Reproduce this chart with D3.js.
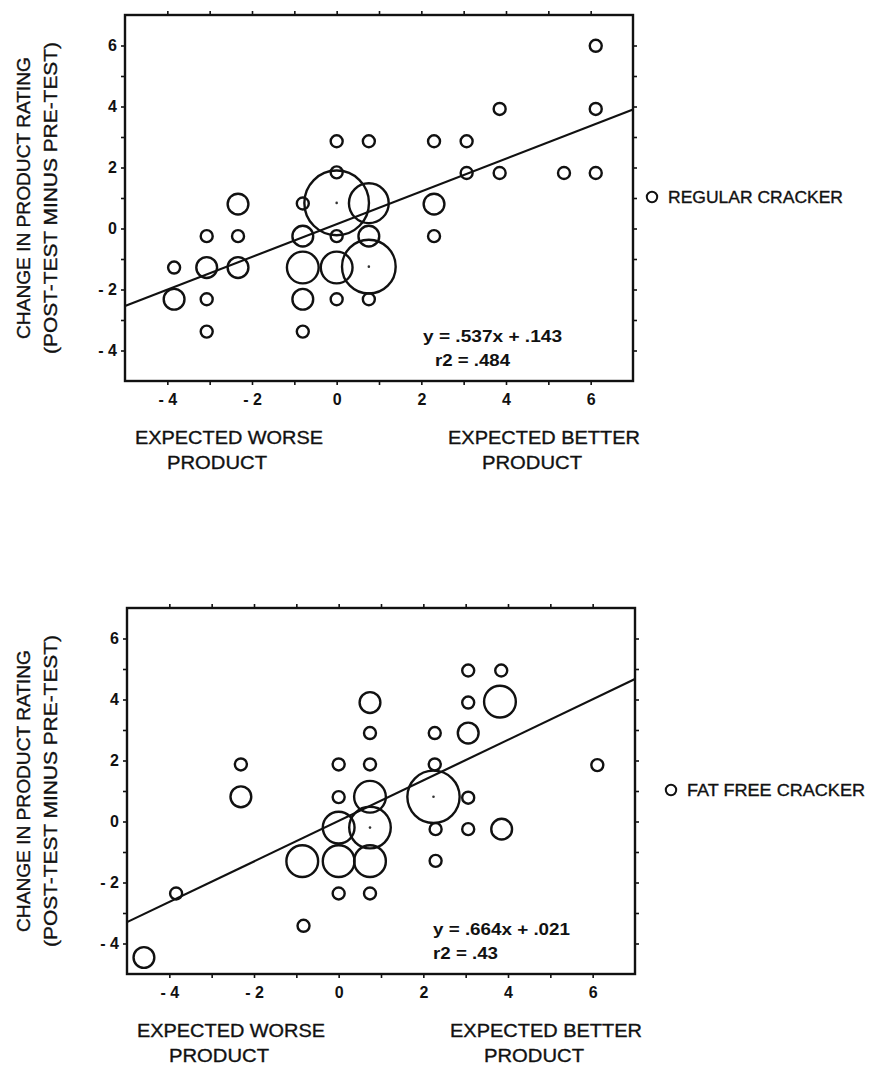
<!DOCTYPE html>
<html>
<head>
<meta charset="utf-8">
<script src="https://cdn.jsdelivr.net/npm/d3@7"></script>
<style>
  body { margin: 0; background: #fff; }
  svg { display: block; font-family: "Liberation Sans", Arial, Helvetica, sans-serif; }
  .tick text { font-size: 16px; font-weight: bold; fill: #111; }
  .tick line { stroke: #111; stroke-width: 1.6; }
  .title { fill: #111; stroke: #111; stroke-width: 0.35; }
</style>
</head>
<body>
<div id="chart"></div>
<script>
// axis values
var xDomain = [-5, 7];
var yDomain = [-5, 7];
var tickValues = [-4, -3, -2, -1, 0, 1, 2, 3, 4, 5, 6];

// regular cracker: expectation (x), change in rating (y), number of respondents (n)
var regularX = [6.12, 3.85, 6.12, 0, 0.76, 2.30, 3.07, 0, 3.07, 3.85, 5.37, 6.12,
  -2.33, -0.80, 0, 0.76, 2.30,
  -3.07, -2.33, -0.80, 0, 0.76, 2.30,
  -3.84, -3.07, -2.33, -0.80, 0, 0.76,
  -3.84, -3.07, -0.80, 0, 0.76,
  -3.07, -0.80];
var regularY = [5.99, 3.92, 3.92, 2.86, 2.86, 2.86, 2.86, 1.84, 1.82, 1.82, 1.82, 1.82,
  0.80, 0.82, 0.84, 0.83, 0.80,
  -0.25, -0.25, -0.25, -0.25, -0.25, -0.25,
  -1.28, -1.28, -1.28, -1.28, -1.28, -1.25,
  -2.32, -2.32, -2.32, -2.32, -2.32,
  -3.38, -3.38];
var regularN = [1, 1, 1, 1, 1, 1, 1, 1, 1, 1, 1, 1,
  3, 1, 29, 11, 3,
  1, 1, 3, 1, 3, 1,
  1, 3, 3, 7, 7, 20,
  3, 1, 3, 1, 1,
  1, 1];

// fat free cracker
var fatFreeX = [3.06, 3.84, 0.74, 3.06, 3.81, 0.74, 2.27, 3.06,
  -2.31, 0, 0.74, 2.27, 6.11,
  -2.31, 0, 0.74, 2.24, 3.06,
  0, 0.74, 2.29, 3.06, 3.85,
  -0.86, 0, 0.74, 2.29,
  -3.84, 0, 0.74,
  -0.83, -4.60];
var fatFreeY = [4.95, 4.95, 3.90, 3.90, 3.93, 2.90, 2.90, 2.90,
  1.87, 1.87, 1.87, 1.87, 1.85,
  0.81, 0.80, 0.81, 0.81, 0.78,
  -0.20, -0.20, -0.25, -0.25, -0.25,
  -1.30, -1.30, -1.30, -1.29,
  -2.36, -2.36, -2.36,
  -3.42, -4.46];
var fatFreeN = [1, 1, 3, 1, 7, 1, 1, 3,
  1, 1, 1, 1, 1,
  3, 1, 7, 19, 1,
  7, 12, 1, 1, 3,
  7, 7, 7, 1,
  1, 1, 1,
  1, 3];

// regression fits
var slopes = [0.537, 0.664];
var intercepts = [0.143, 0.021];
var equationLabels = ["y = .537x + .143", "y = .664x + .021"];
var r2Labels = ["r2 = .484", "r2 = .43"];
var legendLabels = ["REGULAR CRACKER", "FAT FREE CRACKER"];
var yTitleLines = ["CHANGE IN PRODUCT RATING", "(POST-TEST MINUS PRE-TEST)"];
var xTitleLeft = ["EXPECTED WORSE", "PRODUCT"];
var xTitleRight = ["EXPECTED BETTER", "PRODUCT"];

var width = 869, height = 1067;
var plotW = 508, plotH = 366;

var svg = d3.select("#chart").append("svg")
  .attr("width", width)
  .attr("height", height);

svg.append("rect").attr("width", width).attr("height", height).attr("fill", "#fff");

// bubble area follows the count
var rScale = d3.scaleSqrt().domain([0, 1]).range([0, 6]);

function tickLabel(d) {
  if (d % 2 !== 0) return "";
  return d < 0 ? "- " + Math.abs(d) : String(d);
}

function drawPanel(opts) {
  var g = svg.append("g").attr("transform", "translate(" + opts.left + "," + opts.top + ")");

  var x = d3.scaleLinear().domain(xDomain).range([0, plotW]);
  var y = d3.scaleLinear().domain(yDomain).range([plotH, 0]);

  // axes, ticks outward on all four sides
  g.append("g").attr("transform", "translate(0," + plotH + ")")
    .call(d3.axisBottom(x).tickValues(tickValues).tickSize(4).tickPadding(9).tickFormat(tickLabel))
    .call(function (s) { s.select(".domain").remove(); });
  g.append("g")
    .call(d3.axisTop(x).tickValues(tickValues).tickSize(4).tickFormat(""))
    .call(function (s) { s.select(".domain").remove(); });
  g.append("g")
    .call(d3.axisLeft(y).tickValues(tickValues).tickSize(4).tickPadding(4).tickFormat(tickLabel))
    .call(function (s) { s.select(".domain").remove(); });
  g.append("g").attr("transform", "translate(" + plotW + ",0)")
    .call(d3.axisRight(y).tickValues(tickValues).tickSize(4).tickFormat(""))
    .call(function (s) { s.select(".domain").remove(); });

  // frame
  g.append("rect")
    .attr("width", plotW).attr("height", plotH)
    .attr("fill", "none").attr("stroke", "#111").attr("stroke-width", 2.4);

  // regression line
  var line = d3.line()
    .x(function (d) { return x(d); })
    .y(function (d) { return y(opts.slope * d + opts.intercept); });
  g.append("path")
    .datum(xDomain)
    .attr("d", line)
    .attr("fill", "none").attr("stroke", "#111").attr("stroke-width", 2.2);

  var pts = opts.xs.map(function (v, i) { return { x: v, y: opts.ys[i], n: opts.ns[i] }; });

  g.selectAll("circle.bubble")
    .data(pts)
    .enter().append("circle")
    .attr("class", "bubble")
    .attr("cx", function (d) { return x(d.x); })
    .attr("cy", function (d) { return y(d.y); })
    .attr("r", function (d) { return rScale(d.n); })
    .attr("fill", "none")
    .attr("stroke", "#111")
    .attr("stroke-width", 2.4);

  // centre dot on the biggest groups
  g.selectAll("circle.centre")
    .data(pts.filter(function (d) { return d.n >= 12; }))
    .enter().append("circle")
    .attr("class", "centre")
    .attr("cx", function (d) { return x(d.x); })
    .attr("cy", function (d) { return y(d.y); })
    .attr("r", 1.3)
    .attr("fill", "#333");

  // equation
  g.append("text")
    .attr("x", opts.eqX).attr("y", plotH - 39)
    .attr("font-size", 16).attr("font-weight", "bold").attr("fill", "#111")
    .attr("textLength", opts.eqW).attr("lengthAdjust", "spacingAndGlyphs")
    .text(opts.equation);
  g.append("text")
    .attr("x", opts.r2X).attr("y", plotH - 15)
    .attr("font-size", 16).attr("font-weight", "bold").attr("fill", "#111")
    .attr("textLength", opts.r2W).attr("lengthAdjust", "spacingAndGlyphs")
    .text(opts.r2);

  // y title
  var yt = g.append("g").attr("transform", "rotate(-90)").attr("class", "title");
  yt.append("text")
    .attr("x", -plotH / 2).attr("y", 30 - opts.left)
    .attr("text-anchor", "middle").attr("font-size", 19)
    .attr("textLength", 282).attr("lengthAdjust", "spacingAndGlyphs")
    .text(yTitleLines[0]);
  yt.append("text")
    .attr("x", -plotH / 2).attr("y", 57 - opts.left)
    .attr("text-anchor", "middle").attr("font-size", 19)
    .attr("textLength", 312).attr("lengthAdjust", "spacingAndGlyphs")
    .text(yTitleLines[1]);

  // x titles
  var xt = g.append("g").attr("font-size", 19).attr("class", "title");
  xt.append("text").attr("x", 10).attr("y", plotH + 63)
    .attr("textLength", 188).attr("lengthAdjust", "spacingAndGlyphs").text(xTitleLeft[0]);
  xt.append("text").attr("x", 42).attr("y", plotH + 88)
    .attr("textLength", 100).attr("lengthAdjust", "spacingAndGlyphs").text(xTitleLeft[1]);
  xt.append("text").attr("x", 323).attr("y", plotH + 63)
    .attr("textLength", 192).attr("lengthAdjust", "spacingAndGlyphs").text(xTitleRight[0]);
  xt.append("text").attr("x", 357).attr("y", plotH + 88)
    .attr("textLength", 100).attr("lengthAdjust", "spacingAndGlyphs").text(xTitleRight[1]);

  // legend
  var lg = g.append("g").attr("transform", "translate(" + (plotW + opts.legendDx) + ",182)");
  lg.append("circle").attr("r", 5.2).attr("fill", "none").attr("stroke", "#111").attr("stroke-width", 2);
  lg.append("text").attr("x", 16).attr("y", 6).attr("class", "title")
    .attr("font-size", 17)
    .attr("textLength", opts.legendW).attr("lengthAdjust", "spacingAndGlyphs")
    .text(opts.legend);
}

drawPanel({
  left: 125, top: 15,
  xs: regularX, ys: regularY, ns: regularN,
  slope: slopes[0], intercept: intercepts[0],
  equation: equationLabels[0], r2: r2Labels[0],
  eqX: 298, eqW: 139, r2X: 310, r2W: 75,
  legend: legendLabels[0], legendDx: 19, legendW: 175
});

drawPanel({
  left: 127, top: 608,
  xs: fatFreeX, ys: fatFreeY, ns: fatFreeN,
  slope: slopes[1], intercept: intercepts[1],
  equation: equationLabels[1], r2: r2Labels[1],
  eqX: 306, eqW: 137, r2X: 306, r2W: 65,
  legend: legendLabels[1], legendDx: 36, legendW: 178
});
</script>
</body>
</html>
